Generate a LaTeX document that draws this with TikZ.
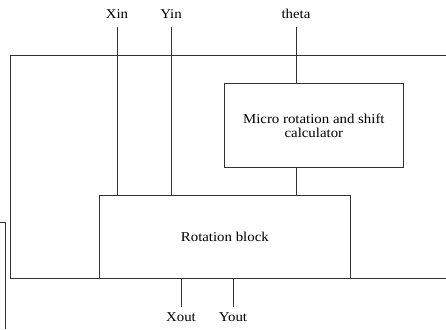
\documentclass[tikz,border=0pt]{standalone}
\usepackage{fontspec}
\setmainfont{Liberation Serif}[FakeStretch=1.1]
\begin{document}
\begin{tikzpicture}[x=1pt,y=-1pt,
  wire/.style={line width=0.7pt, draw=black!80},
  blk/.style={draw=black!80, line width=0.7pt, inner sep=0pt, anchor=north west},
  lbl/.style={font=\fontsize{13.5}{15}\selectfont, inner sep=1pt}]
\useasboundingbox (0,0) rectangle (446,329);
% outer frame (right side beyond picture)
\draw[wire] (446,55) -- (10,55) -- (10,278) -- (446,278);
% left fragment
\draw[wire] (0,222) -- (5,222) -- (5,329);
% blocks
\node[blk, minimum width=179pt, minimum height=84pt, align=center, font=\fontsize{13.5}{14}\selectfont] (mic) at (224,83) {Micro rotation and shift\\calculator};
\node[blk, minimum width=251pt, minimum height=83pt, font=\fontsize{13.5}{15}\selectfont] (rot) at (99,195) {Rotation block};
% labels
\node[lbl] (xin) at (117,14) {Xin};
\node[lbl] (yin) at (171,14) {Yin};
\node[lbl] (th) at (296,14) {theta};
\node[lbl] (xout) at (181,317) {Xout};
\node[lbl] (yout) at (233,317) {Yout};
\coordinate (xint) at (117,27);
\coordinate (yint) at (171,27);
\coordinate (tht) at (296,27);
\coordinate (xoutb) at (181,307);
\coordinate (youtb) at (233,307);
% connectors
\draw[wire] (xint) -- (xint |- rot.north);
\draw[wire] (yint) -- (yint |- rot.north);
\draw[wire] (tht) -- (tht |- mic.north);
\draw[wire] (mic.south -| tht) -- (tht |- rot.north);
\draw[wire] (xoutb |- rot.south) -- (xoutb);
\draw[wire] (youtb |- rot.south) -- (youtb);
\end{tikzpicture}
\end{document}
